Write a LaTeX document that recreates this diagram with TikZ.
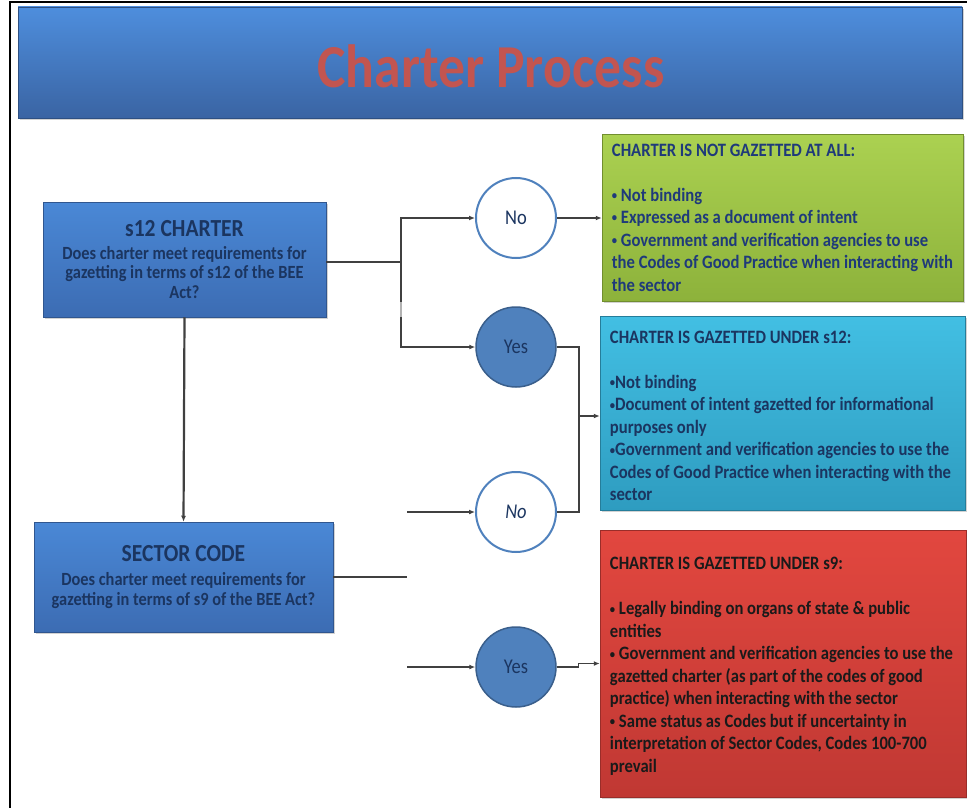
\documentclass[tikz,border=0pt]{standalone}
\usepackage{fontspec}
\setmainfont{Carlito}[FakeStretch=0.88]
\usetikzlibrary{arrows.meta,shadows,calc}
\newcommand\smbul{\raisebox{0.2ex}{\fontsize{12}{12}\selectfont •}}
\definecolor{barTop}{HTML}{4E8EDD}
\definecolor{barBot}{HTML}{3A64A3}
\definecolor{titleRed}{HTML}{C25550}
\definecolor{qTop}{HTML}{4A88D6}
\definecolor{qBot}{HTML}{3C6CB3}
\definecolor{navy}{HTML}{1B3560}
\definecolor{circBlue}{HTML}{4F81BD}
\definecolor{circEdge}{HTML}{3A5F8C}
\definecolor{greenTop}{HTML}{ABD151}
\definecolor{greenBot}{HTML}{8DB23B}
\definecolor{greenText}{HTML}{1F3A7A}
\definecolor{cyanTop}{HTML}{42BFE3}
\definecolor{cyanBot}{HTML}{2E9CC0}
\definecolor{cyanText}{HTML}{1B3560}
\definecolor{redTop}{HTML}{E2473F}
\definecolor{redBot}{HTML}{C03833}
\definecolor{redText}{HTML}{1A1A1A}
\definecolor{lineGray}{HTML}{404040}
\begin{document}
\begin{tikzpicture}[x=1pt,y=-1pt,
  shadowed/.style={drop shadow={opacity=0.35,shadow xshift=1.5pt,shadow yshift=-2pt}},
  titlebar/.style={rectangle,inner sep=0pt,top color=barTop,bottom color=barBot,draw=barBot!80!black,line width=0.5pt,shadowed},
  qbox/.style={rectangle,inner sep=0pt,top color=qTop,bottom color=qBot,draw=qBot!80!black,line width=0.5pt,text=navy,align=center,shadowed},
  nocirc/.style={circle,minimum size=80pt,inner sep=0pt,fill=white,draw=circBlue,line width=2pt,text=navy,font=\fontsize{21}{24}\selectfont},
  yescirc/.style={circle,minimum size=80pt,inner sep=0pt,fill=circBlue,draw=circEdge,line width=1.5pt,text=navy,font=\fontsize{21}{24}\selectfont},
  ansbox/.style={rectangle,inner sep=0pt,shadowed,line width=0.5pt},
  anstext/.style={anchor=west,inner sep=0pt,align=left,font=\bfseries\fontsize{18.9}{22.5}\selectfont},
  conn/.style={draw=lineGray,line width=1.4pt},
  arr/.style={conn,-{Latex[length=6pt,width=5pt]}}
]
\useasboundingbox (0,0) rectangle (967,808);
\fill[white] (0,0) rectangle (967,808);
% outer frame
\draw[line width=2pt] (10,808) -- (10,2) -- (967,2);

% title
\node[titlebar,minimum width=944pt,minimum height=111pt] (title) at (490,62.5) {};
\node[inner sep=0pt,text=titleRed,font=\bfseries\fontsize{61}{64}\selectfont] (titletext) at (491,66) {Charter Process};

% question boxes
\node[qbox,minimum width=283pt,minimum height=115pt,font=\bfseries\fontsize{18.6}{19.75}\selectfont] (s12) at (184.5,259.5)
  {{\fontsize{24.5}{25}\selectfont s12 CHARTER}\\[3pt]Does charter meet requirements for\\gazetting in terms of s12 of the BEE\\Act?};
\node[qbox,minimum width=299pt,minimum height=110pt,font=\bfseries\fontsize{18.6}{19.75}\selectfont] (sector) at (183.5,577)
  {{\fontsize{24.5}{25}\selectfont SECTOR CODE}\\[4pt]Does charter meet requirements for\\gazetting in terms of s9 of the BEE Act?};

% circles
\node[nocirc] (no1) at (516,218) {No};
\node[yescirc] (yes1) at (516,347) {Yes};
\node[nocirc] (no2) at (516,512) {\itshape No};
\node[yescirc] (yes2) at (516,667) {Yes};

% answer boxes
\node[ansbox,minimum width=361pt,minimum height=167pt,top color=greenTop,bottom color=greenBot,draw=greenBot!80!black] (green) at (782.5,217.5) {};
\node[ansbox,minimum width=365pt,minimum height=194pt,top color=cyanTop,bottom color=cyanBot,draw=cyanBot!80!black] (cyan) at (782.5,413) {};
\node[ansbox,minimum width=366pt,minimum height=267pt,top color=redTop,bottom color=redBot,draw=redBot!80!black] (red) at (783,663.5) {};

\node[anstext,text=greenText] (greentext) at ($(green.west)+(10,0)$)
  {CHARTER IS NOT GAZETTED AT ALL:\\[22.5pt]
   \smbul\ Not binding\\
   \smbul\ Expressed as a document of intent\\
   \smbul\ Government and verification agencies to use\\
   the Codes of Good Practice when interacting with\\
   the sector};
\node[anstext,text=cyanText] (cyantext) at ($(cyan.west)+(10,3)$)
  {CHARTER IS GAZETTED UNDER s12:\\[22.5pt]
   \smbul Not binding\\
   \smbul Document of intent gazetted for informational\\
   purposes only\\
   \smbul Government and verification agencies to use the\\
   Codes of Good Practice when interacting with the\\
   sector};
\node[anstext,text=redText] (redtext) at ($(red.west)+(10,3)$)
  {CHARTER IS GAZETTED UNDER s9:\\[22.5pt]
   \smbul\ Legally binding on organs of state \& public\\
   entities\\
   \smbul\ Government and verification agencies to use the\\
   gazetted charter (as part of the codes of good\\
   practice) when interacting with the sector\\
   \smbul\ Same status as Codes but if uncertainty in\\
   interpretation of Sector Codes, Codes 100-700\\
   prevail};

% connectors
\coordinate (j1) at (401,262);
\coordinate (j2) at (579,416);
\coordinate (f1) at (407,577);
\coordinate (f2) at (407,512);
\coordinate (f3) at (407,667);

\draw[arr,line width=2.2pt] (s12.south) -- (sector.north);
\draw[conn] (s12.east |- j1) -- (j1);
\draw[arr] (j1) |- (no1.west);
\draw[arr] (j1) |- (yes1.west);
\draw[draw=gray!60,line width=2.5pt] (401,302) -- (401,317);
\draw[arr] (no1.east) -- (no1.east -| green.west);
\draw[conn] (yes1.east) -| (j2);
\draw[conn] (no2.east) -| (j2);
\draw[arr] (j2) -- (j2 -| cyan.west);
\draw[conn,line width=2.4pt] (sector.east |- f1) -- (f1);
\draw[arr] (f2) -- (no2.west);
\draw[arr] (f3) -- (yes2.west);
\draw[arr] (yes2.east) -- ++(22,0) |- (red.west);
\end{tikzpicture}
\end{document}
